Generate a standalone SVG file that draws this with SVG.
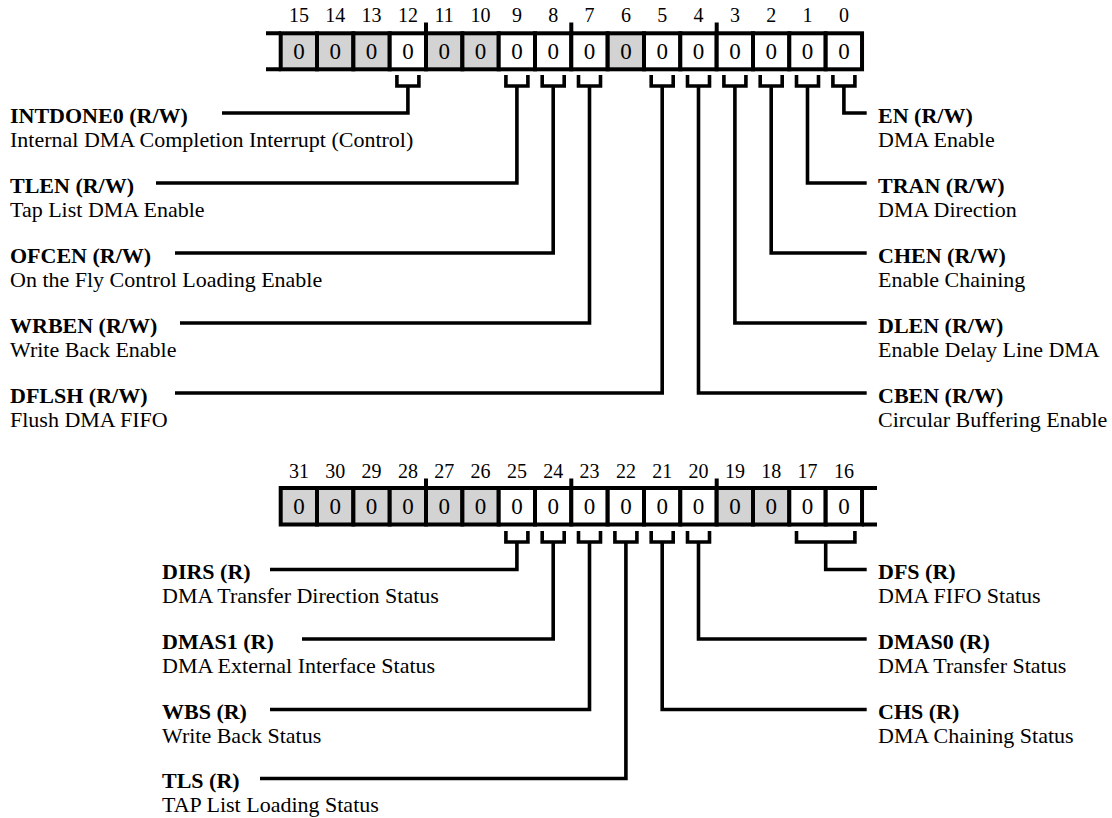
<svg xmlns="http://www.w3.org/2000/svg" width="1112" height="818" viewBox="0 0 1112 818">
<style>
text{font-family:"Liberation Serif","Times New Roman",serif;fill:#000}
.num{font-size:20px;text-anchor:middle}
.val{font-size:23px;text-anchor:middle}
.b{font-size:22px;font-weight:bold}
.d{font-size:22px}
.cell{stroke:#000;stroke-width:4;fill:#fff}
.g{fill:#d3d3d3}
.ln{stroke:#000;stroke-width:4;fill:none}
.cn{stroke:#000;stroke-width:3.6;fill:none;stroke-linejoin:miter}
</style>
<rect width="1112" height="818" fill="#fff"/>
<g id="register-low">
<path class="ln" d="M266 33.3H281M266 69.3H281M426 22.5V33M571.3 22.5V33M716.7 22.5V33"/>
<rect class="cell g" x="280.7" y="33.3" width="36.33" height="36"/>
<rect class="cell g" x="317" y="33.3" width="36.33" height="36"/>
<rect class="cell g" x="353.4" y="33.3" width="36.33" height="36"/>
<rect class="cell" x="389.7" y="33.3" width="36.33" height="36"/>
<rect class="cell g" x="426" y="33.3" width="36.33" height="36"/>
<rect class="cell g" x="462.4" y="33.3" width="36.33" height="36"/>
<rect class="cell" x="498.7" y="33.3" width="36.33" height="36"/>
<rect class="cell" x="535" y="33.3" width="36.33" height="36"/>
<rect class="cell" x="571.3" y="33.3" width="36.33" height="36"/>
<rect class="cell g" x="607.7" y="33.3" width="36.33" height="36"/>
<rect class="cell" x="644" y="33.3" width="36.33" height="36"/>
<rect class="cell" x="680.3" y="33.3" width="36.33" height="36"/>
<rect class="cell" x="716.7" y="33.3" width="36.33" height="36"/>
<rect class="cell" x="753" y="33.3" width="36.33" height="36"/>
<rect class="cell" x="789.3" y="33.3" width="36.33" height="36"/>
<rect class="cell" x="825.7" y="33.3" width="36.33" height="36"/>
<text class="num" x="298.9" y="22">15</text><text class="num" x="335.2" y="22">14</text><text class="num" x="371.6" y="22">13</text><text class="num" x="407.9" y="22">12</text><text class="num" x="444.2" y="22">11</text><text class="num" x="480.6" y="22">10</text><text class="num" x="516.9" y="22">9</text><text class="num" x="553.2" y="22">8</text><text class="num" x="589.5" y="22">7</text><text class="num" x="625.9" y="22">6</text><text class="num" x="662.2" y="22">5</text><text class="num" x="698.5" y="22">4</text><text class="num" x="734.9" y="22">3</text><text class="num" x="771.2" y="22">2</text><text class="num" x="807.5" y="22">1</text><text class="num" x="843.9" y="22">0</text>
<text class="val" x="298.9" y="59">0</text><text class="val" x="335.2" y="59">0</text><text class="val" x="371.6" y="59">0</text><text class="val" x="407.9" y="59">0</text><text class="val" x="444.2" y="59">0</text><text class="val" x="480.6" y="59">0</text><text class="val" x="516.9" y="59">0</text><text class="val" x="553.2" y="59">0</text><text class="val" x="589.5" y="59">0</text><text class="val" x="625.9" y="59">0</text><text class="val" x="662.2" y="59">0</text><text class="val" x="698.5" y="59">0</text><text class="val" x="734.9" y="59">0</text><text class="val" x="771.2" y="59">0</text><text class="val" x="807.5" y="59">0</text><text class="val" x="843.9" y="59">0</text>
</g>
<g id="register-high">
<path class="ln" d="M862 488H877M862 524.5H877M426 478.5V488M571.3 478.5V488M716.7 478.5V488"/>
<rect class="cell g" x="280.7" y="488" width="36.33" height="36.5"/>
<rect class="cell g" x="317" y="488" width="36.33" height="36.5"/>
<rect class="cell g" x="353.4" y="488" width="36.33" height="36.5"/>
<rect class="cell g" x="389.7" y="488" width="36.33" height="36.5"/>
<rect class="cell g" x="426" y="488" width="36.33" height="36.5"/>
<rect class="cell g" x="462.4" y="488" width="36.33" height="36.5"/>
<rect class="cell" x="498.7" y="488" width="36.33" height="36.5"/>
<rect class="cell" x="535" y="488" width="36.33" height="36.5"/>
<rect class="cell" x="571.3" y="488" width="36.33" height="36.5"/>
<rect class="cell" x="607.7" y="488" width="36.33" height="36.5"/>
<rect class="cell" x="644" y="488" width="36.33" height="36.5"/>
<rect class="cell" x="680.3" y="488" width="36.33" height="36.5"/>
<rect class="cell g" x="716.7" y="488" width="36.33" height="36.5"/>
<rect class="cell g" x="753" y="488" width="36.33" height="36.5"/>
<rect class="cell" x="789.3" y="488" width="36.33" height="36.5"/>
<rect class="cell" x="825.7" y="488" width="36.33" height="36.5"/>
<text class="num" x="298.9" y="477.5">31</text><text class="num" x="335.2" y="477.5">30</text><text class="num" x="371.6" y="477.5">29</text><text class="num" x="407.9" y="477.5">28</text><text class="num" x="444.2" y="477.5">27</text><text class="num" x="480.6" y="477.5">26</text><text class="num" x="516.9" y="477.5">25</text><text class="num" x="553.2" y="477.5">24</text><text class="num" x="589.5" y="477.5">23</text><text class="num" x="625.9" y="477.5">22</text><text class="num" x="662.2" y="477.5">21</text><text class="num" x="698.5" y="477.5">20</text><text class="num" x="734.9" y="477.5">19</text><text class="num" x="771.2" y="477.5">18</text><text class="num" x="807.5" y="477.5">17</text><text class="num" x="843.9" y="477.5">16</text>
<text class="val" x="298.9" y="514">0</text><text class="val" x="335.2" y="514">0</text><text class="val" x="371.6" y="514">0</text><text class="val" x="407.9" y="514">0</text><text class="val" x="444.2" y="514">0</text><text class="val" x="480.6" y="514">0</text><text class="val" x="516.9" y="514">0</text><text class="val" x="553.2" y="514">0</text><text class="val" x="589.5" y="514">0</text><text class="val" x="625.9" y="514">0</text><text class="val" x="662.2" y="514">0</text><text class="val" x="698.5" y="514">0</text><text class="val" x="734.9" y="514">0</text><text class="val" x="771.2" y="514">0</text><text class="val" x="807.5" y="514">0</text><text class="val" x="843.9" y="514">0</text>
</g>
<g id="connectors">
<path class="cn" d="M396.9 75V86H418.9V75M407.9 86V113H222"/>
<path class="cn" d="M505.9 75V86H527.9V75M516.9 86V183H156"/>
<path class="cn" d="M542.2 75V86H564.2V75M553.2 86V253H175"/>
<path class="cn" d="M578.5 75V86H600.5V75M589.5 86V323H180"/>
<path class="cn" d="M651.2 75V86H673.2V75M662.2 86V393H175"/>
<path class="cn" d="M687.5 75V86H709.5V75M698.5 86V393H866.7"/>
<path class="cn" d="M723.9 75V86H745.9V75M734.9 86V323H866.7"/>
<path class="cn" d="M760.2 75V86H782.2V75M771.2 86V253H866.7"/>
<path class="cn" d="M796.5 75V86H818.5V75M807.5 86V183H866.7"/>
<path class="cn" d="M832.9 75V86H854.9V75M843.9 86V113H866.7"/>
<path class="cn" d="M505.9 531V542H527.9V531M516.9 542V569.5H270"/>
<path class="cn" d="M542.2 531V542H564.2V531M553.2 542V639H302"/>
<path class="cn" d="M578.5 531V542H600.5V531M589.5 542V709.5H270"/>
<path class="cn" d="M614.9 531V542H636.9V531M625.9 542V778.5H260"/>
<path class="cn" d="M651.2 531V542H673.2V531M662.2 542V709.5H866.7"/>
<path class="cn" d="M687.5 531V542H709.5V531M698.5 542V639H866.7"/>
<path class="cn" d="M796.5 531V542H854.9V531M825.7 542V569.5H866.7"/>
</g>
<g id="INTDONE0"><text class="b" x="10" y="122.5">INTDONE0 (R/W)</text><text class="d" x="10" y="147">Internal DMA Completion Interrupt (Control)</text></g>
<g id="TLEN"><text class="b" x="10" y="192.5">TLEN (R/W)</text><text class="d" x="10" y="217">Tap List DMA Enable</text></g>
<g id="OFCEN"><text class="b" x="10" y="262.5">OFCEN (R/W)</text><text class="d" x="10" y="287">On the Fly Control Loading Enable</text></g>
<g id="WRBEN"><text class="b" x="10" y="332.5">WRBEN (R/W)</text><text class="d" x="10" y="357">Write Back Enable</text></g>
<g id="DFLSH"><text class="b" x="10" y="402.5">DFLSH (R/W)</text><text class="d" x="10" y="427">Flush DMA FIFO</text></g>
<g id="EN"><text class="b" x="878" y="122.5">EN (R/W)</text><text class="d" x="878" y="147">DMA Enable</text></g>
<g id="TRAN"><text class="b" x="878" y="192.5">TRAN (R/W)</text><text class="d" x="878" y="217">DMA Direction</text></g>
<g id="CHEN"><text class="b" x="878" y="262.5">CHEN (R/W)</text><text class="d" x="878" y="287">Enable Chaining</text></g>
<g id="DLEN"><text class="b" x="878" y="332.5">DLEN (R/W)</text><text class="d" x="878" y="357">Enable Delay Line DMA</text></g>
<g id="CBEN"><text class="b" x="878" y="402.5">CBEN (R/W)</text><text class="d" x="878" y="427">Circular Buffering Enable</text></g>
<g id="DIRS"><text class="b" x="162" y="578.5">DIRS (R)</text><text class="d" x="162" y="603">DMA Transfer Direction Status</text></g>
<g id="DMAS1"><text class="b" x="162" y="648.5">DMAS1 (R)</text><text class="d" x="162" y="673">DMA External Interface Status</text></g>
<g id="WBS"><text class="b" x="162" y="718.5">WBS (R)</text><text class="d" x="162" y="743">Write Back Status</text></g>
<g id="TLS"><text class="b" x="162" y="788">TLS (R)</text><text class="d" x="162" y="812">TAP List Loading Status</text></g>
<g id="DFS"><text class="b" x="878" y="578.5">DFS (R)</text><text class="d" x="878" y="603">DMA FIFO Status</text></g>
<g id="DMAS0"><text class="b" x="878" y="648.5">DMAS0 (R)</text><text class="d" x="878" y="673">DMA Transfer Status</text></g>
<g id="CHS"><text class="b" x="878" y="718.5">CHS (R)</text><text class="d" x="878" y="743">DMA Chaining Status</text></g>
</svg>
